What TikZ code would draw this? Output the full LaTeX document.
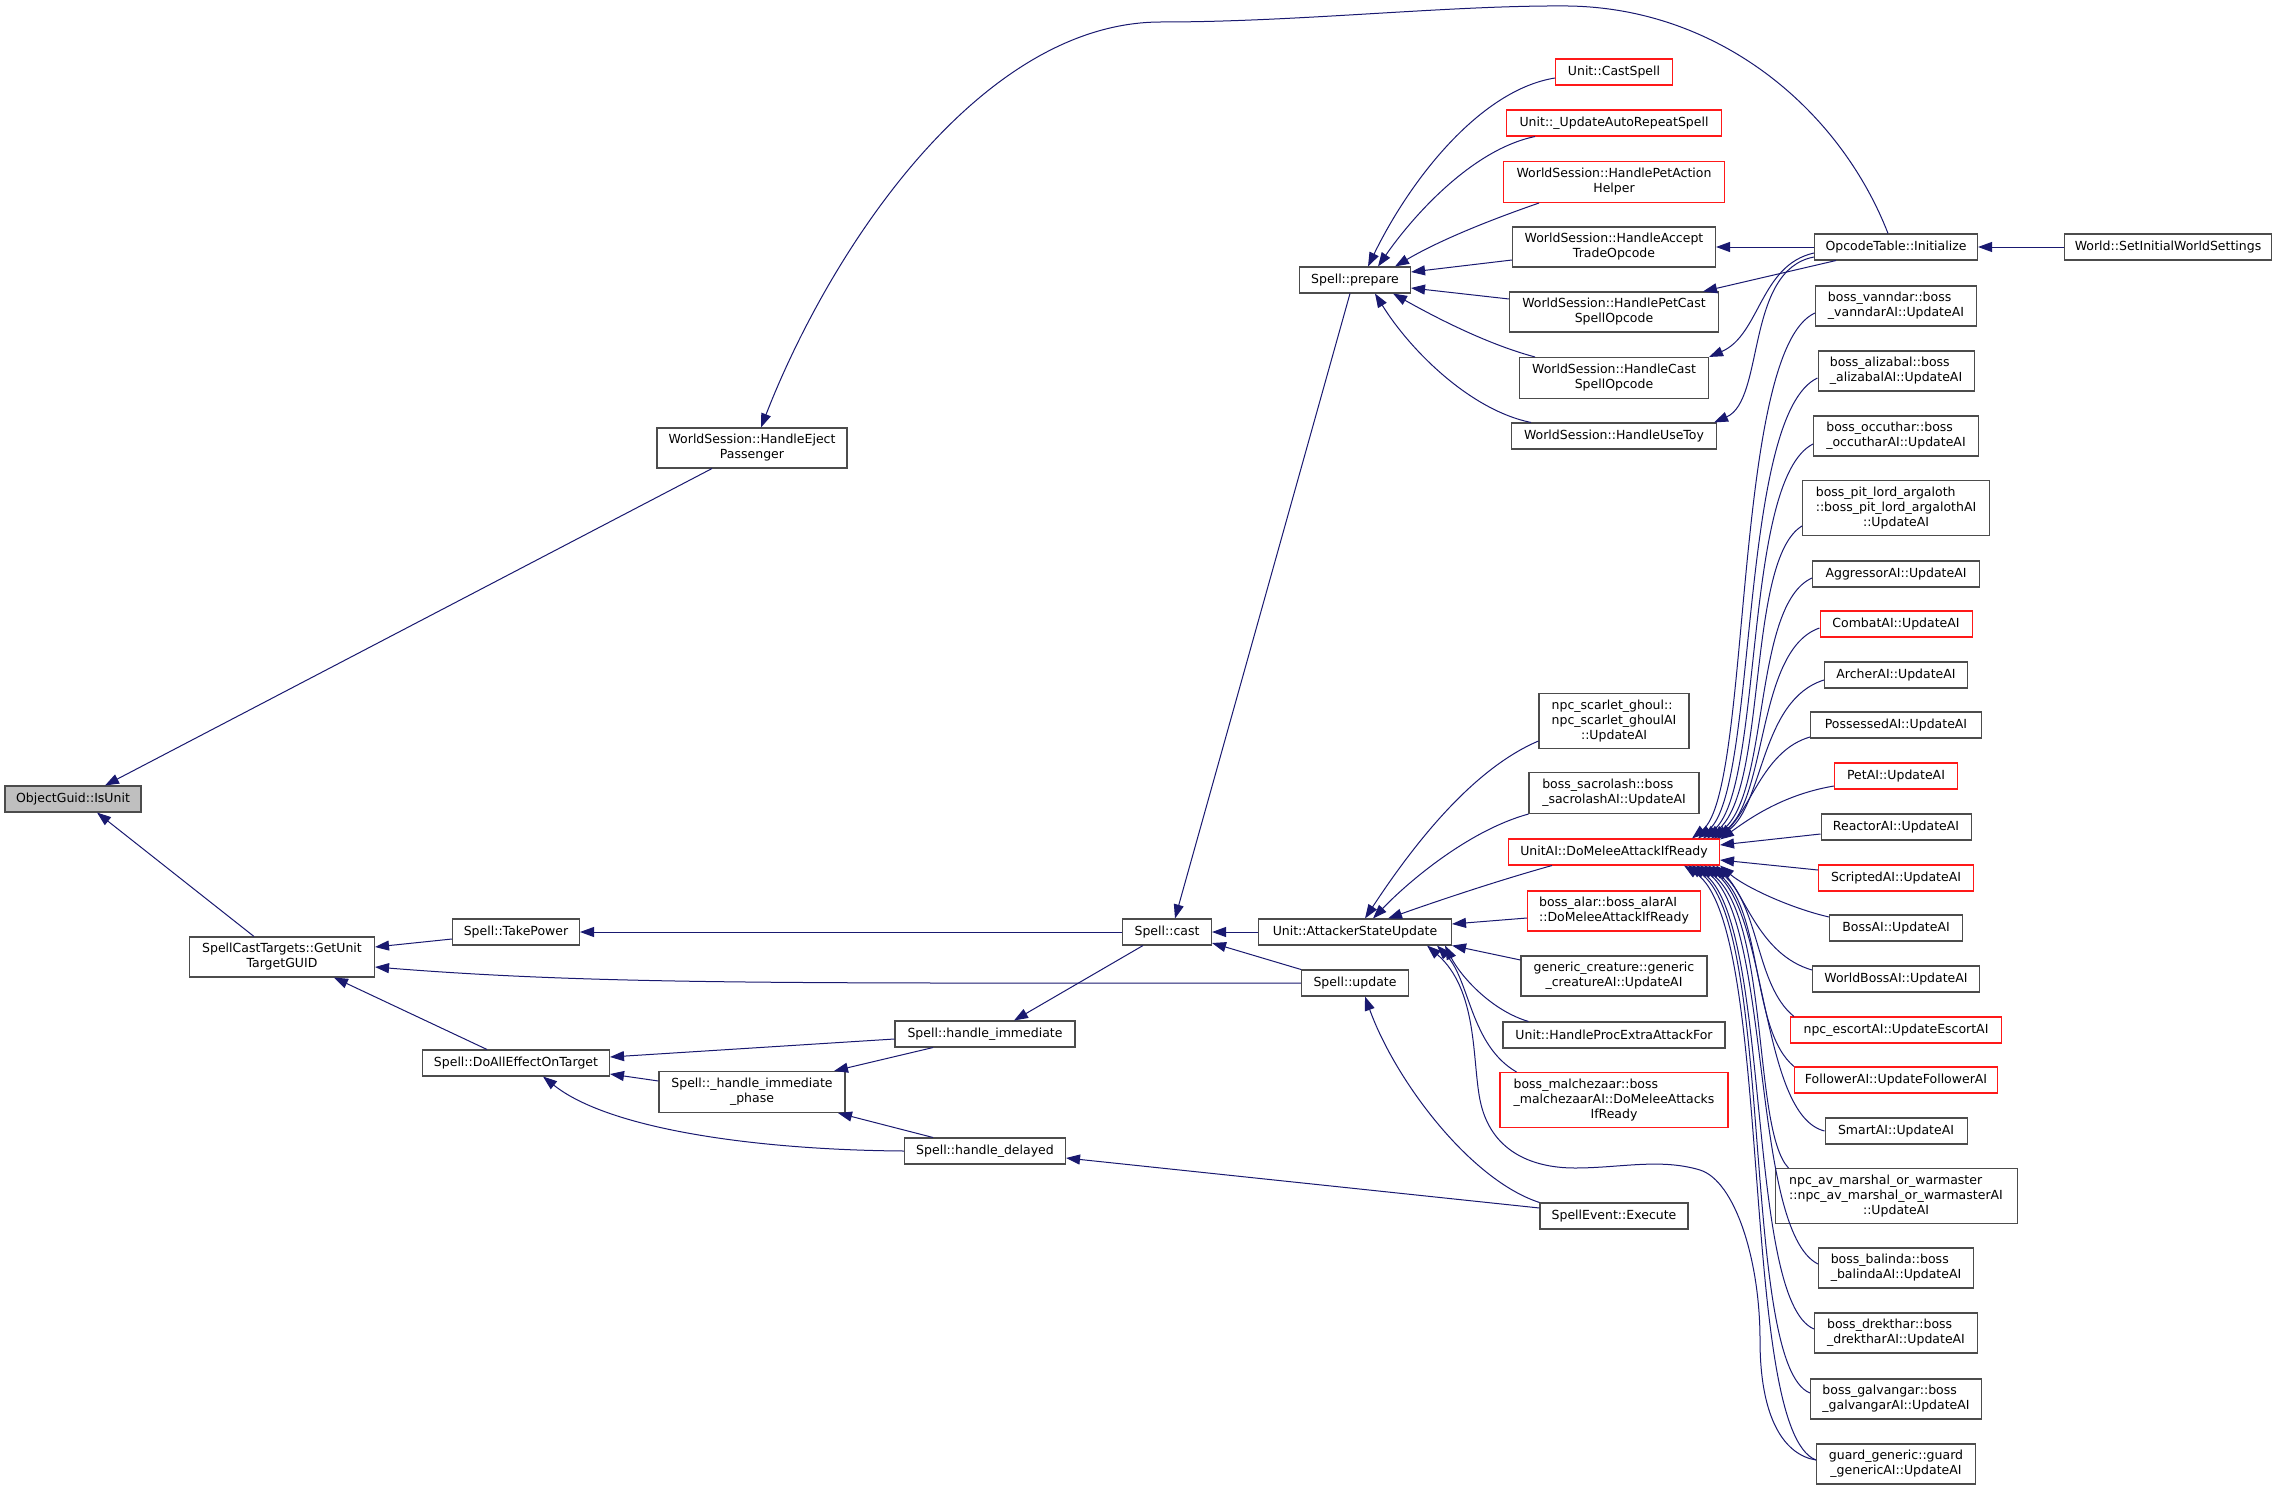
\documentclass[tikz,border=0pt]{standalone}
\usepackage{fontspec}
\usetikzlibrary{arrows.meta,calc}
\newfontfamily\djv{DejaVu Sans}
\definecolor{navyc}{HTML}{191970}
\definecolor{greyf}{HTML}{BFBFBF}
\newcommand{\twol}[2]{\begin{tabular}{@{}l@{}}#1\\\multicolumn{1}{@{}c@{}}{#2}\end{tabular}}
\newcommand{\threel}[3]{\begin{tabular}{@{}l@{}}#1\\#2\\\multicolumn{1}{@{}c@{}}{#3}\end{tabular}}
\tikzset{
 nd/.style={draw=black!70, line width=1.05pt, fill=white, rectangle, inner sep=0pt, align=center, font=\djv\fontsize{12.5pt}{15pt}\selectfont, text=black},
 rn/.style={nd, draw=red!90!white},
 wh/.style 2 args={minimum width=#1pt, minimum height=#2pt},
 e/.style={draw=navyc, line width=1pt, {Triangle[length=14pt,width=10pt]}-}
}
\begin{document}
\begin{tikzpicture}[x=1pt,y=-1pt]
\fill[white] (0,0) rectangle (2277,1490);
\useasboundingbox (0,0) rectangle (2277,1490);
% ---------- nodes ----------
\node[nd, fill=greyf, wh={136}{26}] (iu) at (73,799) {ObjectGuid::IsUnit};
\node[nd, wh={190}{40}] (he) at (752,448) {\twol{WorldSession::HandleEject}{Passenger}};
\node[nd, wh={185}{40}] (gu) at (282,957) {\twol{SpellCastTargets::GetUnit}{TargetGUID}};
\node[nd, wh={127}{26}] (tp) at (516,932) {Spell::TakePower};
\node[nd, wh={187}{26}] (da) at (516,1063) {Spell::DoAllEffectOnTarget};
\node[nd, wh={186}{41}] (hip) at (752,1092) {\twol{Spell::\_handle\_immediate}{\_phase}};
\node[nd, wh={180}{26}] (hi) at (985,1034) {Spell::handle\_immediate};
\node[nd, wh={161}{26}] (hd) at (985,1151) {Spell::handle\_delayed};
\node[nd, wh={89}{26}] (ca) at (1167,932) {Spell::cast};
\node[nd, wh={107}{26}] (up) at (1355,983) {Spell::update};
\node[nd, wh={111}{26}] (pr) at (1355,280) {Spell::prepare};
\node[nd, wh={193}{26}] (asu) at (1355,932) {Unit::AttackerStateUpdate};
% column 5
\node[rn, wh={117}{26}] (cs) at (1614,72) {Unit::CastSpell};
\node[rn, wh={215}{26}] (uar) at (1614,123) {Unit::\_UpdateAutoRepeatSpell};
\node[rn, wh={221}{41}] (hpa) at (1614,182) {\twol{WorldSession::HandlePetAction}{Helper}};
\node[nd, wh={203}{40}] (hat) at (1614,247) {\twol{WorldSession::HandleAccept}{TradeOpcode}};
\node[nd, wh={209}{40}] (hpc) at (1614,312) {\twol{WorldSession::HandlePetCast}{SpellOpcode}};
\node[nd, wh={189}{41}] (hcs) at (1614,378) {\twol{WorldSession::HandleCast}{SpellOpcode}};
\node[nd, wh={205}{26}] (hut) at (1614,436) {WorldSession::HandleUseToy};
\node[nd, wh={150}{55}] (gh) at (1614,721) {\threel{npc\_scarlet\_ghoul::}{npc\_scarlet\_ghoulAI}{::UpdateAI}};
\node[nd, wh={170}{41}] (sac) at (1614,793) {\twol{boss\_sacrolash::boss}{\_sacrolashAI::UpdateAI}};
\node[rn, wh={211}{26}] (dm) at (1614,852) {UnitAI::DoMeleeAttackIfReady};
\node[rn, wh={173}{40}] (alar) at (1614,911) {\twol{boss\_alar::boss\_alarAI}{::DoMeleeAttackIfReady}};
\node[nd, wh={186}{40}] (gen) at (1614,976) {\twol{generic\_creature::generic}{\_creatureAI::UpdateAI}};
\node[nd, wh={222}{26}] (hpe) at (1614,1035) {Unit::HandleProcExtraAttackFor};
\node[rn, wh={228}{55}] (mal) at (1614,1100) {\threel{boss\_malchezaar::boss}{\_malchezaarAI::DoMeleeAttacks}{IfReady}};
\node[nd, wh={148}{26}] (se) at (1614,1216) {SpellEvent::Execute};
% column 6
\node[nd, wh={163}{26}] (op) at (1896,247) {OpcodeTable::Initialize};
\node[nd, wh={207}{26}] (wis) at (2168,247) {World::SetInitialWorldSettings};
\node[nd, wh={161}{40}] (van) at (1896,306) {\twol{boss\_vanndar::boss}{\_vanndarAI::UpdateAI}};
\node[nd, wh={156}{40}] (ali) at (1896,371) {\twol{boss\_alizabal::boss}{\_alizabalAI::UpdateAI}};
\node[nd, wh={165}{40}] (occ) at (1896,436) {\twol{boss\_occuthar::boss}{\_occutharAI::UpdateAI}};
\node[nd, wh={187}{55}] (pl) at (1896,508) {\threel{boss\_pit\_lord\_argaloth}{::boss\_pit\_lord\_argalothAI}{::UpdateAI}};
\node[nd, wh={167}{26}] (agg) at (1896,574) {AggressorAI::UpdateAI};
\node[rn, wh={152}{26}] (com) at (1896,624) {CombatAI::UpdateAI};
\node[nd, wh={143}{26}] (arc) at (1896,675) {ArcherAI::UpdateAI};
\node[nd, wh={171}{26}] (pos) at (1896,725) {PossessedAI::UpdateAI};
\node[rn, wh={123}{26}] (pet) at (1896,776) {PetAI::UpdateAI};
\node[nd, wh={150}{26}] (rea) at (1896,827) {ReactorAI::UpdateAI};
\node[rn, wh={155}{26}] (scr) at (1896,878) {ScriptedAI::UpdateAI};
\node[nd, wh={133}{26}] (boss) at (1896,928) {BossAI::UpdateAI};
\node[nd, wh={167}{26}] (wb) at (1896,979) {WorldBossAI::UpdateAI};
\node[rn, wh={211}{26}] (esc) at (1896,1030) {npc\_escortAI::UpdateEscortAI};
\node[rn, wh={203}{26}] (fol) at (1896,1080) {FollowerAI::UpdateFollowerAI};
\node[nd, wh={142}{26}] (sma) at (1896,1131) {SmartAI::UpdateAI};
\node[nd, wh={242}{55}] (av) at (1896,1196) {\threel{npc\_av\_marshal\_or\_warmaster}{::npc\_av\_marshal\_or\_warmasterAI}{::UpdateAI}};
\node[nd, wh={155}{40}] (bal) at (1896,1268) {\twol{boss\_balinda::boss}{\_balindaAI::UpdateAI}};
\node[nd, wh={163}{40}] (dre) at (1896,1333) {\twol{boss\_drekthar::boss}{\_drektharAI::UpdateAI}};
\node[nd, wh={171}{40}] (gal) at (1896,1399) {\twol{boss\_galvangar::boss}{\_galvangarAI::UpdateAI}};
\node[nd, wh={159}{40}] (gua) at (1896,1464) {\twol{guard\_generic::guard}{\_genericAI::UpdateAI}};
% ---------- edges ----------
\draw[e] ($(iu.north)+(32,0)$) -- ($(he.south)+(-40,0)$);
\draw[e] ($(iu.south)+(24,0)$) -- ($(gu.north)+(-28,0)$);
\draw[e] ($(gu.east)+(0,-10)$) -- ($(tp.west)+(0,7)$);
\draw[e] ($(gu.east)+(0,10)$) .. controls (600,985) and (800,983) .. (up.west);
\draw[e] ($(gu.south)+(52,0)$) -- ($(da.north)+(-29,0)$);
\draw[e] (tp.east) -- (ca.west);
\draw[e] ($(da.east)+(0,-6)$) -- ($(hi.west)+(0,5)$);
\draw[e] ($(da.east)+(0,11)$) -- ($(hip.west)+(0,-11)$);
\draw[e] ($(da.south)+(27,0)$) .. controls (610,1130) and (760,1150) .. (hd.west);
\draw[e] ($(hip.north)+(82,0)$) -- ($(hi.south)+(-52,0)$);
\draw[e] ($(hip.south)+(86,0)$) -- ($(hd.north)+(-52,0)$);
\draw[e] ($(hi.north)+(29,0)$) -- ($(ca.south)+(-24,0)$);
\draw[e] ($(hd.east)+(0,7)$) -- ($(se.west)+(0,-8)$);
\draw[e] ($(ca.north)+(8,0)$) -- ($(pr.south)+(-5,0)$);
\draw[e] (ca.east) -- (asu.west);
\draw[e] ($(ca.east)+(0,11)$) -- (up.north west);
\draw[e] ($(up.south)+(10,0)$) .. controls (1395,1080) and (1470,1180) .. (se.north west);
\draw[e] ($(he.north)+(9,0)$) .. controls (830,250) and (980,22) .. (1161,22) .. controls (1300,22) and (1450,5) .. (1568,6) .. controls (1720,8) and (1840,110) .. ($(op.north)+(-8,0)$);
% prepare callers
\draw[e] ($(pr.north)+(13,0)$) .. controls (1410,180) and (1480,90) .. ($(cs.west)+(0,6)$);
\draw[e] ($(pr.north)+(23,0)$) .. controls (1410,220) and (1470,150) .. ($(uar.south west)+(29,0)$);
\draw[e] ($(pr.north)+(40,0)$) .. controls (1440,240) and (1490,220) .. ($(hpa.south west)+(36,0)$);
\draw[e] ($(pr.east)+(0,-8)$) -- ($(hat.west)+(0,13)$);
\draw[e] ($(pr.east)+(0,8)$) -- ($(hpc.west)+(0,-13)$);
\draw[e] ($(pr.south)+(38,0)$) .. controls (1440,320) and (1490,345) .. ($(hcs.north west)+(16,0)$);
\draw[e] ($(pr.south)+(20,0)$) .. controls (1410,350) and (1470,410) .. ($(hut.north west)+(20,0)$);
% opcode table
\draw[e] (hat.east) -- (op.west);
\draw[e] ($(hpc.north east)+(-16,0)$) -- ($(op.south west)+(22,0)$);
\draw[e] (hcs.north east) .. controls (1760,335) and (1760,265) .. ($(op.west)+(0,6)$);
\draw[e] ($(hut.north east)+(-3,0)$) .. controls (1765,400) and (1745,270) .. ($(op.west)+(0,10)$);
\draw[e] (op.east) -- (wis.west);
% attacker state update callers
\draw[e] ($(asu.north)+(10,0)$) .. controls (1410,850) and (1470,770) .. ($(gh.west)+(0,20)$);
\draw[e] ($(asu.north)+(18,0)$) .. controls (1410,880) and (1470,830) .. (sac.south west);
\draw[e] ($(asu.north)+(33,0)$) .. controls (1440,900) and (1500,880) .. ($(dm.south west)+(44,0)$);
\draw[e] ($(asu.east)+(0,-8)$) -- ($(alar.west)+(0,7)$);
\draw[e] (asu.south east) -- ($(gen.west)+(0,-16)$);
\draw[e] ($(asu.south)+(90,0)$) .. controls (1460,975) and (1490,1010) .. ($(hpe.north west)+(26,0)$);
\draw[e] ($(asu.south)+(82,0)$) .. controls (1470,980) and (1470,1045) .. ($(mal.north west)+(17,0)$);
\draw[e] ($(asu.south)+(72,0)$) .. controls (1478,990) and (1472,1060) .. (1480,1100) .. controls (1490,1150) and (1530,1168) .. (1575,1168) .. controls (1620,1168) and (1660,1158) .. (1700,1170) .. controls (1735,1181) and (1760,1260) .. (1760,1340) .. controls (1760,1420) and (1785,1455) .. ($(gua.west)+(0,-4)$);
% DoMeleeAttackIfReady callers
\draw[e] ($(dm.north east)+(-28,0)$) .. controls (1752,790) and (1732,350) .. ($(van.west)+(0,7)$);
\draw[e] ($(dm.north east)+(-22,0)$) .. controls (1758,790) and (1738,415) .. ($(ali.west)+(0,7)$);
\draw[e] ($(dm.north east)+(-17,0)$) .. controls (1764,790) and (1742,480) .. ($(occ.west)+(0,8)$);
\draw[e] ($(dm.north east)+(-13,0)$) .. controls (1768,790) and (1746,560) .. ($(pl.west)+(0,18)$);
\draw[e] ($(dm.north east)+(-9,0)$) .. controls (1770,795) and (1752,605) .. ($(agg.west)+(0,4)$);
\draw[e] ($(dm.north east)+(-6,0)$) .. controls (1768,800) and (1756,650) .. ($(com.west)+(0,4)$);
\draw[e] ($(dm.north east)+(-3,0)$) .. controls (1764,805) and (1760,700) .. ($(arc.west)+(0,5)$);
\draw[e] ($(dm.north east)+(-1,0)$) .. controls (1752,805) and (1765,750) .. ($(pos.west)+(0,12)$);
\draw[e] ($(dm.north east)+(0,1)$) .. controls (1745,822) and (1780,795) .. ($(pet.west)+(0,10)$);
\draw[e] ($(dm.east)+(0,-7)$) -- ($(rea.west)+(0,7)$);
\draw[e] ($(dm.east)+(0,8)$) -- ($(scr.west)+(0,-8)$);
\draw[e] (dm.south east) .. controls (1745,887) and (1790,908) .. ($(boss.west)+(0,-11)$);
\draw[e] ($(dm.south east)+(-4,0)$) .. controls (1745,895) and (1760,955) .. ($(wb.west)+(0,-9)$);
\draw[e] ($(dm.south east)+(-8,0)$) .. controls (1760,905) and (1755,985) .. ($(esc.north west)+(4,0)$);
\draw[e] ($(dm.south east)+(-12,0)$) .. controls (1764,910) and (1750,1030) .. (fol.north west);
\draw[e] ($(dm.south east)+(-16,0)$) .. controls (1768,910) and (1760,1115) .. (sma.west);
\draw[e] ($(dm.south east)+(-20,0)$) .. controls (1770,915) and (1752,1130) .. ($(av.north west)+(14,0)$);
\draw[e] ($(dm.south east)+(-24,0)$) .. controls (1772,915) and (1750,1230) .. ($(bal.west)+(0,-4)$);
\draw[e] ($(dm.south east)+(-28,0)$) .. controls (1772,920) and (1745,1300) .. ($(dre.west)+(0,-4)$);
\draw[e] ($(dm.south east)+(-32,0)$) .. controls (1775,920) and (1740,1365) .. ($(gal.west)+(0,-6)$);
\draw[e] ($(dm.south east)+(-36,0)$) .. controls (1775,925) and (1738,1430) .. ($(gua.west)+(0,-4)$);
\end{tikzpicture}
\end{document}
